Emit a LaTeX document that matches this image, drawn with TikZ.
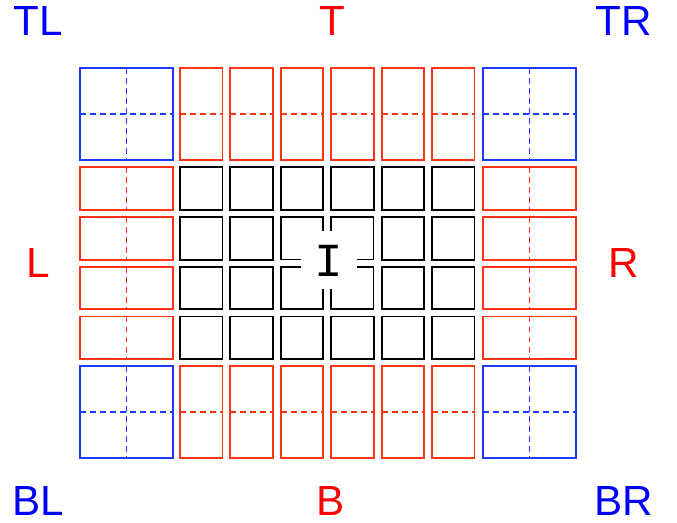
\documentclass[tikz,border=0pt]{standalone}
\usepackage{fontspec}
\setmainfont{Liberation Sans}
\setmonofont{Liberation Mono}
\usepackage{xcolor}
\usetikzlibrary{positioning}
\definecolor{cornerblue}{RGB}{30,60,255}
\definecolor{edgered}{RGB}{255,50,20}

\begin{document}
\begin{tikzpicture}[
    x=0.02cm, y=-0.02cm,
    box/.style={draw=#1, line width=1.1pt},
    half/.style={draw=#1, line width=0.8pt, dash pattern=on 3.4pt off 2.3pt},
    lbl/.style={font=\fontsize{24}{24}\selectfont, text=#1, inner sep=0pt}
]
\useasboundingbox (0,0) rectangle (677,523);

% Corner blocks
\foreach \x in {80,483} \foreach \y in {68,366} {
  \draw[box=cornerblue] (\x,\y) rectangle ++(93,92);
  \draw[half=cornerblue] (\x+46.5,\y) -- ++(0,92);
  \draw[half=cornerblue] (\x,\y+46) -- ++(93,0);
}

% Top and bottom edge cells
\foreach \i in {0,...,5} \foreach \y in {68,366} {
  \pgfmathsetmacro\x{180+50.4*\i}
  \draw[box=edgered] (\x,\y) rectangle ++(42.5,92);
  \draw[half=edgered] (\x,\y+46) -- ++(42.5,0);
}

% Left and right edge cells
\foreach \j in {0,...,3} \foreach \x in {80,483} {
  \pgfmathsetmacro\y{167.4+49.7*\j}
  \draw[box=edgered] (\x,\y) rectangle ++(93,42.5);
  \draw[half=edgered] (\x+46.5,\y) -- ++(0,42.5);
}

% Inner cells (centre 2x2 drawn below)
\foreach \i in {0,...,5} \foreach \j in {0,...,3} {
  \pgfmathtruncatemacro\inmid{((\i==2)||(\i==3))&&((\j==1)||(\j==2))}
  \ifnum\inmid=0
    \draw[box=black] ({180+50.4*\i},{167.4+49.7*\j}) rectangle ++(42.5,42.5);
  \fi
}

% Centre cells, opened round the middle
\draw[box=black] (323,231) -- (323,217) -- (281,217) -- (281,259.5) -- (301,259.5);
\draw[box=black] (331,231) -- (331,217) -- (373.5,217) -- (373.5,259.5) -- (357,259.5);
\draw[box=black] (301,266.8) -- (281,266.8) -- (281,309.3) -- (323,309.3) -- (323,289);
\draw[box=black] (357,266.8) -- (373.5,266.8) -- (373.5,309.3) -- (331,309.3) -- (331,289);
\node[font=\ttfamily\fontsize{27}{27}\selectfont, inner sep=0pt] (centre) at (329,260.5) {I};

% Labels
\node[lbl=blue] (tl) at (38,21) {TL};
\node[lbl=red] (t) at (332,21) {T};
\node[lbl=blue] (tr) at (624,21) {TR};
\node[lbl=red] (l) at (38,263) {L};
\node[lbl=red] (r) at (624,263) {R};
\node[lbl=blue] (bl) at (38,501) {BL};
\node[lbl=red] (b) at (331,501) {B};
\node[lbl=blue] (br) at (624,501) {BR};
\end{tikzpicture}
\end{document}
